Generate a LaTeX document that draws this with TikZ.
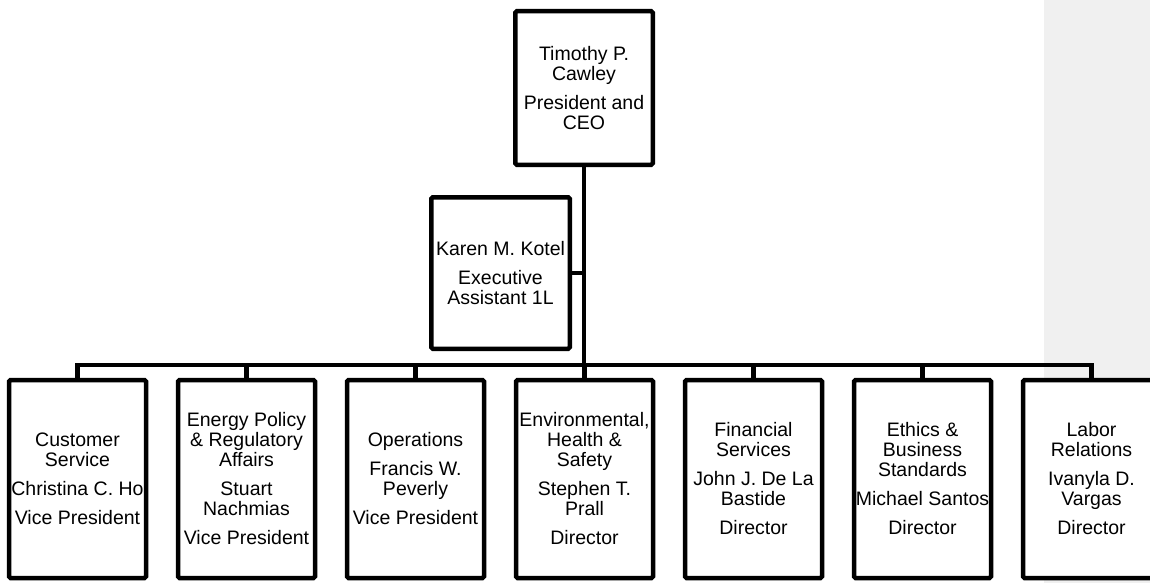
\documentclass[tikz,border=0pt]{standalone}
\usepackage{fontspec}
\setmainfont{Liberation Sans}
\usetikzlibrary{positioning}
\definecolor{panelgrey}{HTML}{F0F0F0}

\begin{document}
\begin{tikzpicture}[x=1pt,y=-1pt,node distance=32pt,
    unit/.style={draw,line width=4.5pt,rounded corners=1.5pt,fill=white,rectangle,outer sep=0pt,
      align=center,inner sep=0pt,font=\fontsize{19.5}{20}\selectfont},
    dept/.style={unit,minimum width=137pt,minimum height=198pt},
    link/.style={line width=4.5pt}]
    \useasboundingbox (0,0) rectangle (1150,583);
    \fill[panelgrey] (1044,0) rectangle (1150,583);

    \node[unit,minimum width=137.5pt,minimum height=153.5pt] (ceo) at (584,88) {Timothy P.\\Cawley\\[9pt]President and\\CEO};
    \node[unit,minimum width=138.5pt,minimum height=151.5pt] (asst) at (500.5,273) {Karen M. Kotel\\[9pt]Executive\\Assistant 1L};

    \node[dept] (cs) at (77.5,479) {Customer\\Service\\[9pt]Christina C. Ho\\[9pt]Vice President};
    \node[dept,right=of cs] (ep) {Energy Policy\\\& Regulatory\\Affairs\\[9pt]Stuart\\Nachmias\\[9pt]Vice President};
    \node[dept,right=of ep] (op) {Operations\\[9pt]Francis W.\\Peverly\\[9pt]Vice President};
    \node[dept,right=of op] (eh) {Environmental,\\Health \&\\Safety\\[9pt]Stephen T.\\Prall\\[9pt]Director};
    \node[dept,right=of eh] (fs) {Financial\\Services\\[9pt]John J. De La\\Bastide\\[9pt]Director};
    \node[dept,right=of fs] (eb) {Ethics \&\\Business\\Standards\\[9pt]Michael Santos\\[9pt]Director};
    \node[dept,right=of eb] (lr) {Labor\\Relations\\[9pt]Ivanyla D.\\Vargas\\[9pt]Director};

    \coordinate (bus) at (584,365);
    \draw[link] (ceo) -- (bus);
    \draw[link] (asst) -- (asst -| bus);
    \draw[link] (cs) -- (cs |- bus) -- (lr |- bus) -- (lr);
    \foreach \d in {ep,op,eh,fs,eb}
        \draw[link] (\d |- bus) -- (\d);
\end{tikzpicture}
\end{document}
